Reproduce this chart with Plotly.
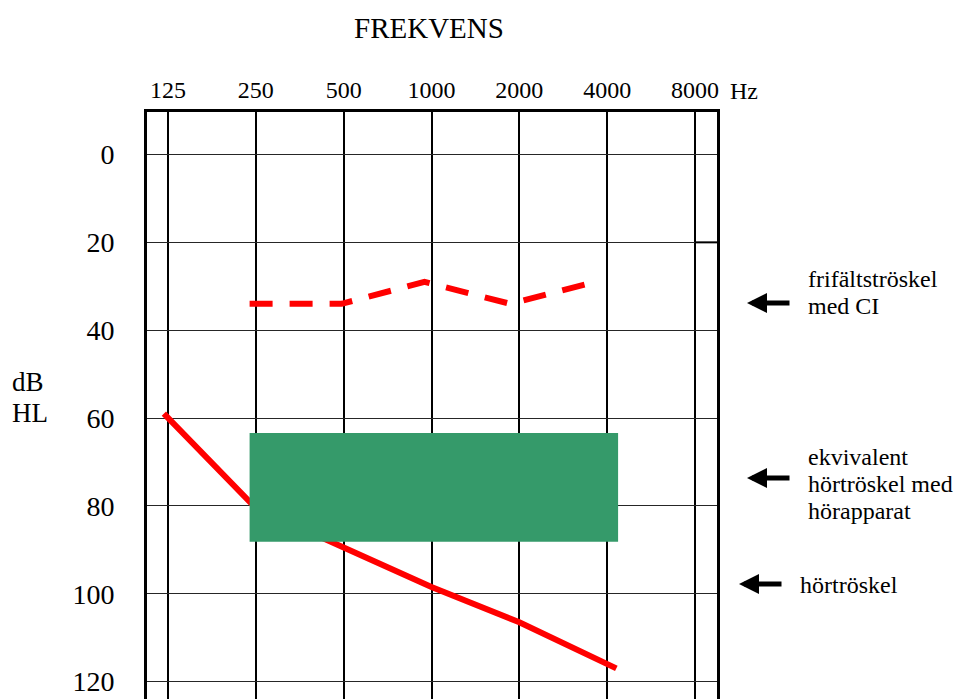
import plotly.graph_objects as go

# ---- data ----
freq_ticks = [125, 250, 500, 1000, 2000, 4000, 8000]
freq_labels = ["125", "250", "500", "1000", "2000", "4000", "8000"]
db_ticks = [0, 20, 40, 60, 80, 100, 120]
db_labels = ["0", "20", "40", "60", "80", "100", "120"]

# hörtröskel (unaided threshold), solid red
thr_freq = [121, 250, 500, 1000, 2000, 4300]
thr_db = [59, 80.5, 89.5, 98.5, 106.5, 117]

# frifältströskel med CI, dashed red
ci_freq = [238, 492, 946, 1862, 3640]
ci_db = [34, 34, 29, 34, 29]

# ekvivalent hörtröskel med hörapparat (green band)
ha_freq_lo, ha_freq_hi = 238, 4360
ha_db_top, ha_db_bottom = 63.4, 88.2

# ---- layout geometry (pixels) ----
W, H = 956, 699
PL, PR, PT, PB = 147, 717, 112, 699   # plot area edges


def px(x):
    return (x - PL) / (PR - PL)


def py(y):
    return (PB - y) / (PB - PT)


SERIF = "Liberation Serif, Times New Roman, serif"

fig = go.Figure()

fig.add_trace(go.Scatter(
    x=thr_freq, y=thr_db, mode="lines",
    line=dict(color="#ff0000", width=6), hoverinfo="skip"))

fig.add_trace(go.Scatter(
    x=[ha_freq_lo, ha_freq_hi, ha_freq_hi, ha_freq_lo, ha_freq_lo],
    y=[ha_db_top, ha_db_top, ha_db_bottom, ha_db_bottom, ha_db_top],
    mode="lines", fill="toself", fillcolor="#359a6a",
    line=dict(width=0, color="#359a6a"), hoverinfo="skip"))

fig.add_trace(go.Scatter(
    x=ci_freq, y=ci_db, mode="lines",
    line=dict(color="#ff0000", width=6, dash="23px,17px"), hoverinfo="skip"))

fig.update_xaxes(
    type="log", side="top",
    range=[2.02494, 3.97849],
    tickvals=freq_ticks, ticktext=freq_labels,
    showgrid=True, gridcolor="#000000", gridwidth=2,
    showline=True, linecolor="#000000", linewidth=3,
    ticks="", ticklabelstandoff=1,
    tickfont=dict(family=SERIF, size=24, color="#000000"),
    zeroline=False, automargin=False, fixedrange=True)

fig.update_yaxes(
    range=[123.98, -9.68],
    tickvals=db_ticks, ticktext=db_labels,
    showgrid=True, gridcolor="#262626", gridwidth=1.4,
    showline=True, mirror=True, linecolor="#000000", linewidth=3,
    ticks="", ticklabelstandoff=24,
    tickfont=dict(family=SERIF, size=28, color="#000000"),
    zeroline=False, automargin=False, fixedrange=True)

annotations = []


def text(t, x, y, size, xanchor="left"):
    annotations.append(dict(
        text=t, x=px(x), y=py(y), xref="paper", yref="paper",
        xanchor=xanchor, yanchor="middle", showarrow=False,
        font=dict(family=SERIF, size=size, color="#000000")))


def arrow(x_head, x_tail, y):
    annotations.append(dict(
        text="", x=px(x_head), y=py(y), xref="paper", yref="paper",
        ax=x_tail - x_head, ay=0, showarrow=True,
        arrowhead=2, arrowsize=0.8, arrowwidth=5, arrowcolor="#000000",
        standoff=0))


text("FREKVENS", 429, 28, 29, xanchor="center")
text("Hz", 728, 91, 24)
text("dB", 10, 382, 27)
text("HL", 10, 413, 27)

text("frifältströskel", 806, 279, 24)
text("med CI", 806, 306, 24)
text("ekvivalent", 806, 457, 24)
text("hörtröskel med", 806, 484, 24)
text("hörapparat", 806, 511, 24)
text("hörtröskel", 798, 585, 24)

arrow(747, 791, 303)
arrow(747, 791, 478)
arrow(739, 783, 584)

fig.update_layout(
    width=W, height=H,
    margin=dict(l=PL, r=W - PR, t=PT, b=H - PB),
    paper_bgcolor="#ffffff", plot_bgcolor="#ffffff",
    showlegend=False,
    annotations=annotations,
    shapes=[dict(type="line", xref="paper", yref="y",
                 x0=px(695), x1=1, y0=20, y1=20,
                 line=dict(color="#000000", width=2))],
    font=dict(family=SERIF, color="#000000"))

fig.write_html(
    "out.html", config={"displayModeBar": False},
    post_script="document.body.style.margin='0';document.body.style.overflow='hidden';")
